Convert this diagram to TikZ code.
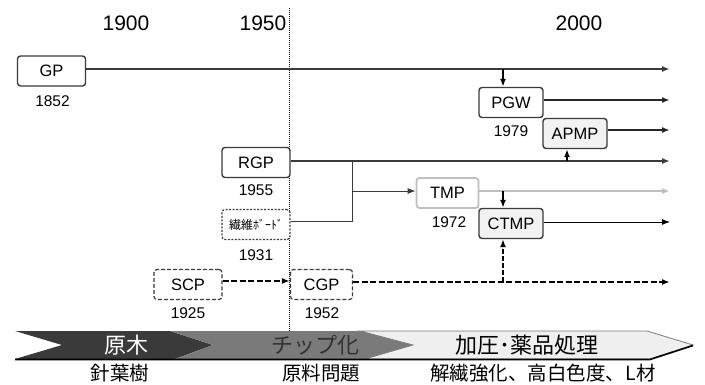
\documentclass[tikz,border=0pt]{standalone}
\usepackage{fontspec}
\setmainfont{Liberation Sans}
\newfontfamily\jp{Noto Sans CJK JP}
\usetikzlibrary{arrows.meta}
\definecolor{dk}{HTML}{3A3A3A}
\definecolor{md}{HTML}{7A7A7A}
\definecolor{lt}{HTML}{EFEFEF}
\definecolor{lg}{HTML}{BFBFBF}
\definecolor{bx}{HTML}{F2F2F2}
\tikzset{
  tip/.style={-{Latex[length=8pt,width=6pt]}},
  pbox/.style={draw=dk, line width=1.4pt, rounded corners=3pt, fill=white, minimum height=30pt, inner sep=0pt, font=\fontsize{16.5}{17}\selectfont},
  gbox/.style={pbox, fill=bx},
  tbox/.style={pbox, draw=lg, line width=1.8pt},
  dbox/.style={pbox, line width=1.2pt, dash pattern=on 4pt off 2pt},
  fbox/.style={pbox, line width=1.2pt, dash pattern=on 2pt off 1.5pt},
  yr/.style={font=\fontsize{15.5}{16}\selectfont, inner sep=0pt},
  yrtop/.style={font=\fontsize{21}{22}\selectfont, inner sep=0pt},
  mainline/.style={tip, draw=dk, line width=2.4pt},
  midline/.style={tip, draw=black!85, line width=2pt},
  thinline/.style={draw=dk, line width=0.9pt},
  dline/.style={tip, draw=black, line width=2pt, dash pattern=on 6pt off 2.5pt},
  jpl/.style={font=\jp\fontsize{19.5}{20}\selectfont, inner sep=0pt},
  jpb/.style={font=\jp\fontsize{22}{22}\selectfont, inner sep=0pt},
}
\begin{document}
\begin{tikzpicture}[x=1pt,y=-1pt]
\useasboundingbox (0,0) rectangle (705,385);
% years on top
\node[yrtop] (y1900) at (126,23) {1900};
\node[yrtop] (y1950) at (263,23) {1950};
\node[yrtop] (y2000) at (579,23) {2000};
% vertical dotted line
\coordinate (vt) at (289,8);
\coordinate (vb) at (289,331);
\draw[black, line width=0.9pt, dash pattern=on 1pt off 1pt] (vt) -- (vb);
% boxes
\node[pbox, minimum width=68pt] (GP) at (51.5,71) {GP};
\node[yr] (tGP) at (52.5,101) {1852};
\node[pbox, minimum width=64pt] (PGW) at (511,102.5) {PGW};
\node[yr] (tPGW) at (511,131) {1979};
\node[gbox, minimum width=64pt] (APMP) at (575,133.5) {APMP};
\node[pbox, minimum width=68pt] (RGP) at (256,162.5) {RGP};
\node[yr] (tRGP) at (256,190) {1955};
\node[fbox, minimum width=68pt, font=\jp\fontsize{12}{12}\selectfont] (FB) at (256,224.5) {繊維ﾎﾞｰﾄﾞ};
\node[yr] (tFB) at (256,255) {1931};
\node[tbox, minimum width=62pt] (TMP) at (447.5,193) {TMP};
\node[yr] (tTMP) at (449,222) {1972};
\node[gbox, minimum width=64pt] (CTMP) at (511,223.5) {CTMP};
\node[dbox, minimum width=68pt] (SCP) at (188,284.5) {SCP};
\node[yr] (tSCP) at (188,313) {1925};
\node[dbox, minimum width=62pt] (CGP) at (321.5,284.5) {CGP};
\node[yr] (tCGP) at (322,313) {1952};
% end coordinates
\coordinate (eGP) at (670,69);
\coordinate (ePGW) at (670,100);
\coordinate (eAPMP) at (670,130);
\coordinate (eRGP) at (670,161);
\coordinate (eTMP) at (670,191);
\coordinate (eCTMP) at (670,222);
\coordinate (eCGP) at (670,282);
\coordinate (bPGW) at (503,69);
\coordinate (bAPMP) at (567,161);
\coordinate (bCTMPa) at (503,191);
\coordinate (bCTMPb) at (503,282);
\coordinate (j1) at (352,221);
\coordinate (j2) at (352,161);
\coordinate (j3) at (352,191);
% lines
\draw[mainline] (GP.east |- eGP) -- (eGP);
\draw[midline] (PGW.east |- ePGW) -- (ePGW);
\draw[midline] (APMP.east |- eAPMP) -- (eAPMP);
\draw[mainline] (RGP.east |- eRGP) -- (eRGP);
\draw[mainline, draw=lg, -{Latex[length=8pt,width=6pt,fill=lg]}] (TMP.east |- eTMP) -- (eTMP);
\draw[tip, draw=black, line width=0.9pt] (CTMP.east |- eCTMP) -- (eCTMP);
\draw[dline] (CGP.east |- eCGP) -- (eCGP);
\draw[dline] (SCP.east |- 0,281) -- (CGP.west |- 0,281);
% vertical connectors
\draw[tip, black, line width=2pt] (bPGW) -- (bPGW |- PGW.north);
\draw[tip, black, line width=1.6pt] (bAPMP) -- (bAPMP |- APMP.south);
\draw[tip, black, line width=2pt] (bCTMPa) -- (bCTMPa |- CTMP.north);
\draw[dline, dash pattern=on 5pt off 2pt] (bCTMPb) -- (bCTMPb |- CTMP.south);
% thin branch from RGP / fibreboard to TMP
\draw[thinline] (FB.east |- j1) -- (j1) -- (j2);
\draw[thinline, tip] (j3) -- (TMP.west |- j3);
% bottom band
\fill[dk] (15,331) -- (170,331) -- (213,345) -- (175,359) -- (15,359) -- (62,345) -- cycle;
\fill[md] (170,331) -- (360,331) -- (413,345) -- (365,359) -- (175,359) -- (213,345) -- cycle;
\filldraw[fill=lt, draw=md, line width=0.8pt] (360,331) -- (647,331) -- (693,345) -- (650,359) -- (365,359) -- (413,345) -- cycle;
\draw[black, line width=1.6pt] (15,359.5) -- (650,359.5) -- (693,345.5);
\node[jpb, text=white] (b1) at (126,345) {原木};
\node[jpb, text=black!80] (b2) at (315,345) {チップ化};
\node[jpb, text=black] (b3) at (527,345) {加圧･薬品処理};
\node[jpl] (c1) at (120,373) {針葉樹};
\node[jpl] (c2) at (321,373) {原料問題};
\node[jpl] (c3) at (543,373) {解繊強化、高白色度、L材};
\end{tikzpicture}
\end{document}
